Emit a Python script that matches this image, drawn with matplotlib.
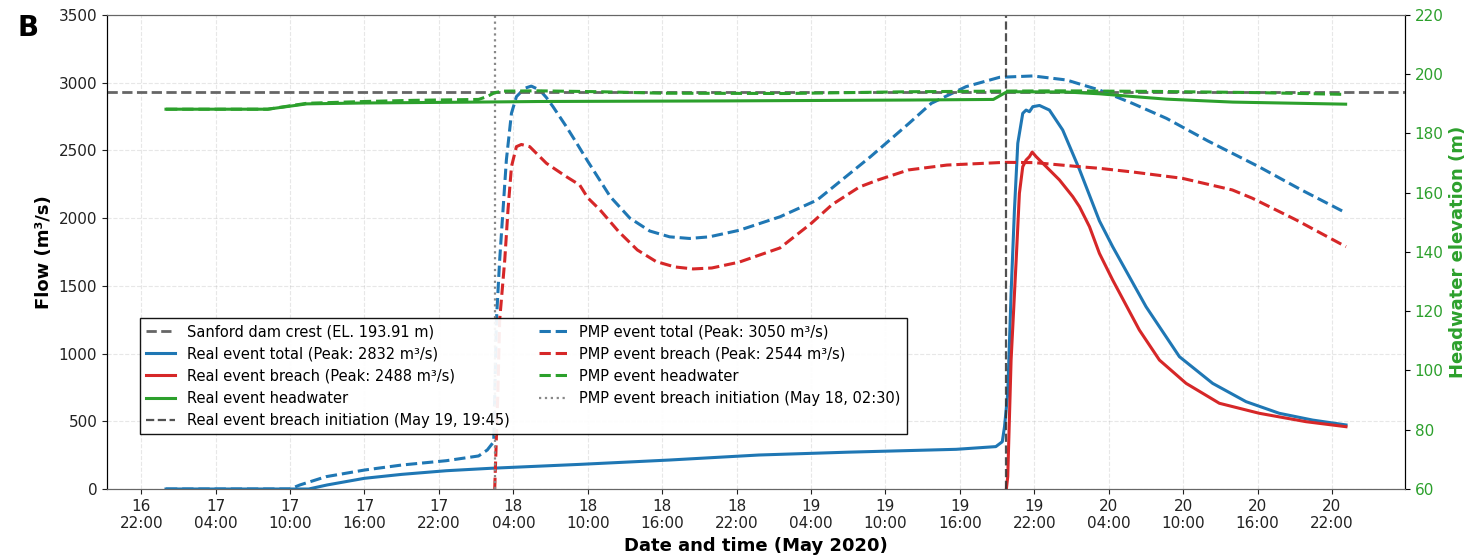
import numpy as np
import pandas as pd
import matplotlib
matplotlib.use("Agg")
import matplotlib.pyplot as plt
import matplotlib.dates as mdates

# hours after 2020-05-17 00:00
base = pd.Timestamp("2020-05-17 00:00")

pmp_total_h = [0, 10, 10.8, 12.9, 16, 19, 22.6, 25.2, 25.9, 26.42, 26.64, 26.9, 27.17, 27.44,
               27.85, 28.25, 28.92, 29.45, 30.13, 30.67, 31.2, 32.28, 33.2, 34.0, 35.82, 37.4,
               39.0, 40.6, 42.2, 43.8, 46.2, 49.5, 52.5, 56.8, 59.9, 61.7, 64.5, 67.2, 69.9,
               72.6, 75.25, 77.9, 80.65, 84.0, 88.1, 91.5, 95.1]
pmp_total_q = [0, 0, 30, 91, 140, 177, 209, 244, 288, 349, 1248, 1691, 2060, 2429,
               2774, 2897, 2959, 2975, 2946, 2890, 2823, 2675, 2540, 2420, 2158, 2000,
               1905, 1862, 1850, 1862, 1910, 2010, 2134, 2454, 2700, 2848, 2971, 3040, 3050,
               3020, 2946, 2848, 2737, 2570, 2380, 2210, 2040]

pmp_breach_h = [26.5, 26.75, 26.9, 27.31, 27.57, 27.85, 28.25, 28.65, 29.32, 30.67, 32.28,
                33.35, 34.0, 35.0, 36.5, 38.0, 39.5, 41.0, 42.5, 44.0, 46.2, 49.5, 52.0,
                53.7, 55.9, 57.4, 59.86, 62.96, 67.6, 70.0, 73.64, 75.25, 78.0, 81.94,
                85.97, 87.58, 91.13, 95.13]
pmp_breach_q = [0, 700, 1248, 1691, 2060, 2380, 2528, 2544, 2528, 2405, 2306,
                2245, 2150, 2060, 1900, 1765, 1680, 1640, 1625, 1632, 1675, 1780, 1960,
                2100, 2230, 2282, 2356, 2392, 2412, 2410, 2380, 2368, 2340, 2294,
                2208, 2147, 1986, 1789]

real_total_h = [0, 11.5, 13, 16, 19, 22.6, 26.2, 33.4, 40.6, 47.8, 55, 63.7, 66.9, 67.42,
                67.6, 67.86, 68.13, 68.4, 68.67, 69.07, 69.34, 69.61, 69.88, 70.42, 71.22,
                72.29, 73.64, 75.25, 76.32, 79.01, 81.7, 84.38, 87.07, 89.75, 92.44, 95.13]
real_total_q = [0, 0, 30, 79, 108, 135, 153, 182, 214, 251, 272, 293, 313, 349,
                460, 707, 1445, 2060, 2553, 2774, 2798, 2786, 2823, 2832, 2798,
                2651, 2360, 1980, 1789, 1346, 977, 780, 645, 559, 509, 473]

real_breach_h = [67.75, 67.86, 68.13, 68.54, 68.8, 69.07, 69.34, 69.61, 69.83, 70.15, 70.96,
                 72.03, 73.1, 73.64, 74.45, 75.25, 76.32, 78.47, 80.09, 82.24, 84.92, 88.14,
                 91.91, 95.13]
real_breach_q = [0, 91, 952, 1691, 2183, 2380, 2429, 2454, 2488, 2454, 2380,
                 2282, 2159, 2085, 1937, 1740, 1543, 1174, 952, 780, 633, 559,
                 497, 460]

real_hw_h = [0, 8.2, 11.35, 16, 25, 30, 45, 60, 66.7, 67.8, 72.6, 75.25, 77.9, 80.65, 86, 95.1]
real_hw_m = [188.2, 188.2, 190.0, 190.3, 190.6, 190.8, 191.0, 191.3, 191.5, 194.1, 194.0,
             193.4, 192.5, 191.6, 190.6, 189.9]

pmp_hw_h = [0, 8.2, 11.35, 16, 20, 25.2, 25.9, 26.5, 27.2, 30, 35, 40, 50, 55, 60, 67, 72,
            80, 88, 95.1]
pmp_hw_m = [188.2, 188.2, 190.2, 190.8, 191.2, 191.5, 192.5, 193.8, 194.3, 194.4, 194.1,
            193.6, 193.5, 193.8, 194.1, 194.3, 194.4, 194.2, 193.8, 193.2]

dam_crest = 193.91
real_breach_time = pd.Timestamp("2020-05-19 19:45")
pmp_breach_time = pd.Timestamp("2020-05-18 02:30")


def to_time(hours):
    return base + pd.to_timedelta(hours, unit="h")


blue, red, green = "#1f77b4", "#d62728", "#2ca02c"

fig = plt.figure(figsize=(14.72, 5.57), dpi=100)
ax1 = fig.add_axes([107 / 1472, 1 - 489 / 557, 1298 / 1472, 474 / 557])
ax2 = ax1.twinx()

# flows
l_rt, = ax1.plot(to_time(real_total_h), real_total_q, color=blue, lw=2.2,
                 label="Real event total (Peak: 2832 m³/s)")
l_rb, = ax1.plot(to_time(real_breach_h), real_breach_q, color=red, lw=2.2,
                 label="Real event breach (Peak: 2488 m³/s)")
l_pt, = ax1.plot(to_time(pmp_total_h), pmp_total_q, color=blue, lw=2.2, ls="--",
                 label="PMP event total (Peak: 3050 m³/s)")
l_pb, = ax1.plot(to_time(pmp_breach_h), pmp_breach_q, color=red, lw=2.2, ls="--",
                 label="PMP event breach (Peak: 2544 m³/s)")
l_ri = ax1.axvline(real_breach_time, color="#333333", ls="--", lw=1.6, alpha=0.85,
                   label="Real event breach initiation (May 19, 19:45)")
l_pi = ax1.axvline(pmp_breach_time, color="#888888", ls=":", lw=1.6,
                   label="PMP event breach initiation (May 18, 02:30)")

# headwater
l_crest = ax2.axhline(dam_crest, color="#666666", ls="--", lw=2,
                      label="Sanford dam crest (EL. 193.91 m)")
l_rh, = ax2.plot(to_time(real_hw_h), real_hw_m, color=green, lw=2.2,
                 label="Real event headwater")
l_ph, = ax2.plot(to_time(pmp_hw_h), pmp_hw_m, color=green, lw=2.2, ls="--",
                 label="PMP event headwater")

ax1.set_ylim(0, 3500)
ax1.set_yticks(np.arange(0, 3501, 500))
ax2.set_ylim(60, 220)
ax2.set_yticks(np.arange(60, 221, 20))

ax1.xaxis.set_major_locator(mdates.HourLocator(byhour=[4, 10, 16, 22]))
ax1.xaxis.set_major_formatter(mdates.DateFormatter("%d\n%H:%M"))

ax1.grid(True, ls="--", alpha=0.3)
ax1.tick_params(labelsize=11, colors="#222222")
ax2.tick_params(axis="y", labelsize=11, labelcolor=green)

ax1.set_xlabel("Date and time (May 2020)", fontsize=13, fontweight="bold")
ax1.set_ylabel("Flow (m³/s)", fontsize=13, fontweight="bold")
ax2.set_ylabel("Headwater elevation (m)", fontsize=13, fontweight="bold", color=green)

for ax in (ax1, ax2):
    ax.spines["top"].set_color("#666666")
    ax.spines["bottom"].set_color("#666666")

handles = [l_crest, l_rt, l_rb, l_rh, l_ri, l_pt, l_pb, l_ph, l_pi]
ax2.legend(handles=handles, loc="lower left", bbox_to_anchor=(0.0254, 0.116), ncol=2,
           borderaxespad=0, fontsize=10.5, framealpha=0.92, edgecolor="black",
           fancybox=False)

fig.text(0.019, 0.95, "B", fontsize=20, fontweight="bold", va="center", ha="center")

fig.savefig("out.png", dpi=100)
